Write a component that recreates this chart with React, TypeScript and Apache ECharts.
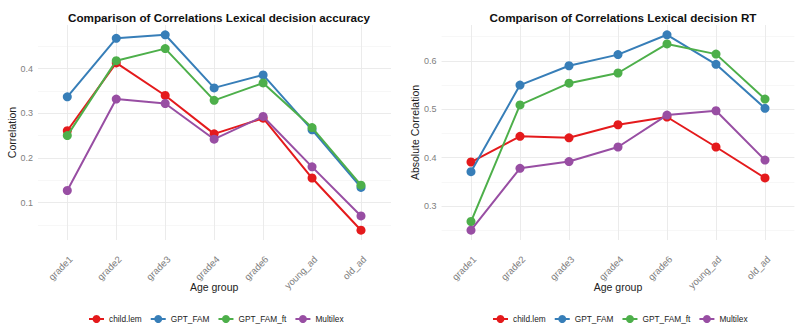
import React, { useEffect, useRef } from "react";
import * as echarts from "echarts";

const categories = ["grade1", "grade2", "grade3", "grade4", "grade6", "young_ad", "old_ad"];
const seriesNames = ["child.lem", "GPT_FAM", "GPT_FAM_ft", "Multilex"];
const colors = ["#E41A1C", "#377EB8", "#4DAF4A", "#984EA3"];

// Lexical decision accuracy
const accChildLem = [0.261, 0.413, 0.340, 0.254, 0.289, 0.155, 0.038];
const accGptFam = [0.337, 0.468, 0.476, 0.357, 0.386, 0.263, 0.134];
const accGptFamFt = [0.250, 0.418, 0.445, 0.329, 0.368, 0.268, 0.139];
const accMultilex = [0.127, 0.332, 0.322, 0.242, 0.293, 0.180, 0.070];

// Lexical decision RT (absolute)
const rtChildLem = [0.391, 0.444, 0.441, 0.468, 0.484, 0.422, 0.358];
const rtGptFam = [0.371, 0.550, 0.590, 0.613, 0.654, 0.593, 0.502];
const rtGptFamFt = [0.268, 0.509, 0.554, 0.575, 0.635, 0.614, 0.521];
const rtMultilex = [0.250, 0.378, 0.392, 0.422, 0.488, 0.497, 0.395];

const accTitle = "Comparison of Correlations Lexical decision accuracy";
const rtTitle = "Comparison of Correlations Lexical decision RT";
const accYName = "Correlation";
const rtYName = "Absolute Correlation";
const xName = "Age group";

const FONT = "'Liberation Sans', Arial, Helvetica, sans-serif";

export default function App() {
  const ref = useRef<HTMLDivElement>(null);
  useEffect(() => {
    if (!ref.current) return;
    const chart = echarts.init(ref.current, null, { renderer: "svg" });

    const accData = [accChildLem, accGptFam, accGptFamFt, accMultilex];
    const rtData = [rtChildLem, rtGptFam, rtGptFamFt, rtMultilex];

    // ggplot-like 5% expansion of y ranges
    const expand = (arrs: number[][]) => {
      const all = arrs.flat();
      const lo = Math.min(...all);
      const hi = Math.max(...all);
      const pad = (hi - lo) * 0.05;
      return [lo - pad, hi + pad];
    };
    const [accMin, accMax] = expand(accData);
    const [rtMin, rtMax] = expand(rtData);

    const top = 25;
    const height = 215;

    const bgY = (gridIndex: number, min: number, max: number, name: string, gap: number) => ({
      gridIndex,
      type: "value",
      min,
      max,
      splitNumber: 5,
      name,
      nameLocation: "middle",
      nameRotate: 90,
      nameGap: gap,
      nameMoveOverlap: false,
      nameTextStyle: { fontFamily: FONT, fontSize: 10.5, color: "#222" },
      axisLine: { show: false },
      axisTick: { show: false },
      axisLabel: {
        fontFamily: FONT,
        fontSize: 9,
        color: "#808080",
        margin: 5,
        showMinLabel: false,
        showMaxLabel: false,
      },
      splitLine: {
        show: true,
        showMinLine: false,
        showMaxLine: false,
        lineStyle: { color: "#e9e9e9", width: 0.9 },
      },
      minorTick: { show: false, splitNumber: 2 },
      minorSplitLine: { show: true, lineStyle: { color: "#f2f2f2", width: 0.6 } },
    });

    const dataX = (gridIndex: number) => ({
      gridIndex,
      type: "category",
      data: categories,
      boundaryGap: false,
      name: xName,
      nameLocation: "middle",
      nameGap: 41,
      nameMoveOverlap: false,
      nameTextStyle: { fontFamily: FONT, fontSize: 10.5, color: "#222" },
      axisLine: { show: false },
      axisTick: { show: false },
      axisLabel: {
        interval: 0,
        rotate: 45,
        verticalAlign: "top",
        fontFamily: FONT,
        fontSize: 9.5,
        color: "#808080",
        margin: 14,
      },
      splitLine: { show: true, interval: 0, lineStyle: { color: "#e9e9e9", width: 0.9 } },
    });

    const mkSeries = (data: number[][], xAxisIndex: number, yAxisIndex: number) =>
      data.map((vals, i) => ({
        type: "line",
        name: seriesNames[i],
        xAxisIndex,
        yAxisIndex,
        data: vals,
        symbol: "circle",
        symbolSize: 9,
        clip: false,
        itemStyle: { color: colors[i] },
        lineStyle: { color: colors[i], width: 2 },
        z: 3 + i,
      }));

    const legendBase = {
      orient: "horizontal",
      top: 310,
      itemWidth: 15,
      itemHeight: 10,
      itemGap: 8,
      textStyle: { fontFamily: FONT, fontSize: 8.3, color: "#222" },
      data: seriesNames,
    };

    chart.setOption({
      animation: false,
      backgroundColor: "#ffffff",
      title: [
        {
          text: accTitle,
          left: 214,
          textAlign: "center",
          top: 6,
          textStyle: { fontFamily: FONT, fontSize: 11.7, fontWeight: "bold", color: "#111" },
        },
        {
          text: rtTitle,
          left: 618,
          textAlign: "center",
          top: 6,
          textStyle: { fontFamily: FONT, fontSize: 11.7, fontWeight: "bold", color: "#111" },
        },
      ],
      grid: [
        { left: 38, top, width: 353, height },
        { left: 67.3, top, width: 293.7, height },
        { left: 441.6, top, width: 352.8, height },
        { left: 471, top, width: 294, height },
      ],
      xAxis: [
        { gridIndex: 0, type: "value", min: 0, max: 1, show: false },
        dataX(1),
        { gridIndex: 2, type: "value", min: 0, max: 1, show: false },
        dataX(3),
      ],
      yAxis: [
        bgY(0, accMin, accMax, accYName, 21),
        { gridIndex: 1, type: "value", min: accMin, max: accMax, show: false },
        bgY(2, rtMin, rtMax, rtYName, 21),
        { gridIndex: 3, type: "value", min: rtMin, max: rtMax, show: false },
      ],
      legend: [
        { ...legendBase, left: 83 },
        { ...legendBase, left: 487 },
      ],
      series: [...mkSeries(accData, 1, 1), ...mkSeries(rtData, 3, 3)],
    });

    return () => chart.dispose();
  }, []);

  return <div ref={ref} style={{ width: 800, height: 333, position: "absolute", left: 0, top: 0 }} />;
}
